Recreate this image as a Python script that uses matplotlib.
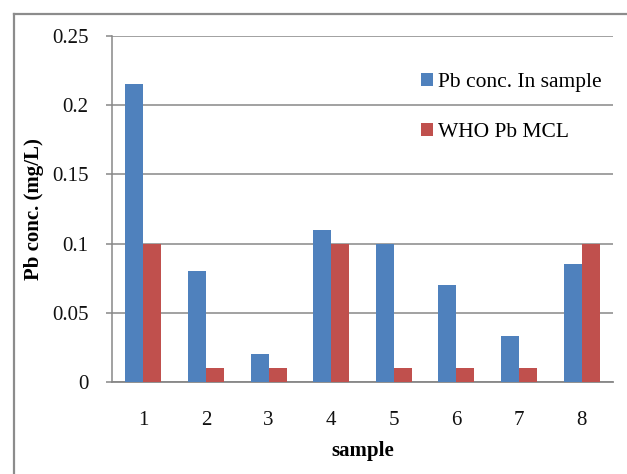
import matplotlib
matplotlib.use("Agg")
import matplotlib.pyplot as plt
import numpy as np
from matplotlib.lines import Line2D

samples = ["1", "2", "3", "4", "5", "6", "7", "8"]
pb_sample = [0.215, 0.08, 0.02, 0.11, 0.10, 0.07, 0.033, 0.085]
who_mcl = [0.10, 0.01, 0.01, 0.10, 0.01, 0.01, 0.01, 0.10]
series_names = ["Pb conc. In sample", "WHO Pb MCL"]
yticks = [0, 0.05, 0.1, 0.15, 0.2, 0.25]
ytick_labels = ["0", "0.05", "0.1", "0.15", "0.2", "0.25"]

plt.rcParams['font.family'] = ['Liberation Serif', 'DejaVu Serif']

W, H = 627, 474
fig = plt.figure(figsize=(W / 100, H / 100), dpi=100)
ax = fig.add_axes([112 / W, 1 - 382 / H, (613 - 112) / W, (382 - 36) / H])

x = np.arange(len(samples))
bw = 0.2875
ax.bar(x - bw / 2, pb_sample, bw, color="#4F81BD", label=series_names[0], zorder=3, linewidth=0)
ax.bar(x + bw / 2, who_mcl, bw, color="#C0504D", label=series_names[1], zorder=3, linewidth=0)

ax.set_xlim(-0.5, len(samples) - 0.5)
ax.set_ylim(0, 0.25)
ax.set_yticks(yticks)
ax.set_yticklabels(ytick_labels)
ax.set_xticks(x)
ax.set_xticklabels(samples)

grid_c = "#878787"
ax.yaxis.grid(True, color=grid_c, linewidth=1.1, zorder=0)
ax.set_axisbelow(True)
for s in ["top", "right"]:
    ax.spines[s].set_visible(False)
ax.spines["left"].set_color(grid_c)
ax.spines["left"].set_linewidth(1.1)
ax.spines["bottom"].set_color(grid_c)
ax.spines["bottom"].set_linewidth(1.3)
ax.tick_params(axis="y", direction="out", length=4.3, width=1.1, color=grid_c,
               labelsize=15, pad=12.5, labelcolor="#111111")
ax.tick_params(axis="x", length=0, labelsize=15, pad=21, labelcolor="#111111")

ax.set_xlabel("sample", fontsize=15, fontweight="bold", labelpad=7.5)
ax.set_ylabel("Pb conc. (mg/L)", fontsize=15, fontweight="bold", labelpad=6)

leg = ax.legend(loc="upper left", bbox_to_anchor=(421 / W, 1 - 73 / H),
                bbox_transform=fig.transFigure, frameon=False, fontsize=15.5,
                handlelength=0.55, handleheight=0.55, handletextpad=0.25,
                labelspacing=1.45, borderpad=0, borderaxespad=0)

# outer chart border (top and left visible)
fig.add_artist(Line2D([14 / W, 1.0], [1 - 14 / H, 1 - 14 / H], transform=fig.transFigure,
                      color="#8c8c8c", linewidth=1.6))
fig.add_artist(Line2D([14 / W, 14 / W], [0.0, 1 - 14 / H], transform=fig.transFigure,
                      color="#8c8c8c", linewidth=1.6))

fig.savefig("out.png", dpi=100)
